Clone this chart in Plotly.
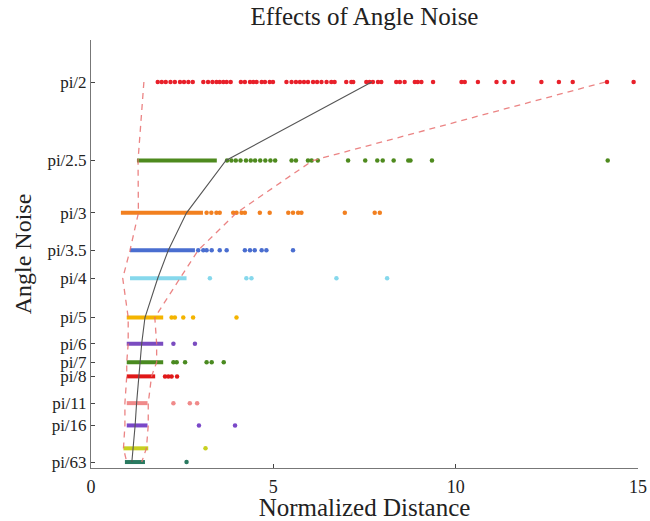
import math
import plotly.graph_objects as go

# ---- data ----
labels = ["pi/2", "pi/2.5", "pi/3", "pi/3.5", "pi/4", "pi/5", "pi/6", "pi/7",
          "pi/8", "pi/11", "pi/16", "", "pi/63"]
divisors = [2, 2.5, 3, 3.5, 4, 5, 6, 7, 8, 11, 16, 30, 63]
colors = ["#e8202a", "#4e8a1e", "#f28020", "#4a6ed0", "#86d8ec", "#f4b400",
          "#7a4cc0", "#4a8a20", "#e01818", "#f08a8a", "#7a48c8", "#c8d020", "#2a7a60"]

# dense (overlapping) runs of points: start and end of each run
dense_lo = [None, 1.26, 0.82, 1.07, 1.07, 0.98, 0.98, 0.98, 0.98, 0.98, 0.98, 0.89, 0.93]
dense_hi = [None, 3.45, 3.07, 2.85, 2.62, 1.98, 1.98, 1.98, 1.76, 1.55, 1.55, 1.57, 1.48]

# individual (separable) points at each level
dots = [
    [1.83, 1.94, 2.05, 2.18, 2.30, 2.44, 2.55, 2.67, 2.79, 3.08, 3.21, 3.33, 3.44,
     3.53, 3.63, 3.72, 3.83, 4.11, 4.22, 4.36, 4.45, 4.54, 4.68, 4.77, 4.90, 4.99,
     5.36, 5.50, 5.62, 5.73, 5.84, 5.95, 6.09, 6.20, 6.32, 6.46, 6.59, 6.68, 7.00,
     7.14, 7.19, 7.55, 7.64, 7.73, 7.87, 7.96, 8.37, 8.47, 8.60, 8.88, 8.96, 9.06,
     9.38, 10.16, 10.25, 10.61, 11.12, 11.34, 11.57, 12.35, 12.83, 13.21, 14.15, 14.88],
    [3.73, 3.85, 3.97, 4.10, 4.25, 4.38, 4.50, 4.64, 4.78, 4.92, 5.05, 5.50, 5.62,
     5.95, 6.05, 6.22, 7.05, 7.52, 7.85, 8.00, 8.30, 8.70, 8.76, 9.35, 14.17],
    [3.17, 3.30, 3.44, 3.53, 3.90, 3.99, 4.13, 4.22, 4.63, 4.90, 5.41, 5.54, 5.68,
     5.77, 6.96, 7.78, 7.92],
    [2.94, 3.08, 3.17, 3.31, 3.53, 3.72, 4.22, 4.36, 4.49, 4.68, 4.81, 5.54],
    [3.26, 4.26, 4.40, 6.73, 8.12],
    [2.21, 2.30, 2.53, 2.80, 3.99],
    [2.26, 2.85],
    [2.26, 2.35, 2.58, 3.17, 3.31, 3.64],
    [2.03, 2.12, 2.21, 2.36],
    [2.26, 2.71, 2.91],
    [2.96, 3.95],
    [3.14],
    [2.62],
]

medians = [7.70, 3.70, 2.62, 2.12, 1.83, 1.48, 1.39, 1.34, 1.32, 1.25, 1.21, 1.16, 1.12]
lower = [1.45, 1.29, 1.30, 1.07, 0.87, 1.02, 1.02, 0.98, 0.98, 0.93, 0.93, 0.89, 0.98]
upper = [14.10, 6.08, 3.99, 2.94, 2.44, 1.75, 1.80, 1.80, 1.66, 1.57, 1.57, 1.52, 1.39]

x_ticks = [0, 5, 10, 15]

# ---- figure ----
angles = [math.pi / d for d in divisors]
fig = go.Figure()

for i, a in enumerate(angles):
    if dense_lo[i] is not None:
        fig.add_trace(go.Scatter(x=[dense_lo[i], dense_hi[i]], y=[a, a], mode="lines",
                                 line=dict(color=colors[i], width=4),
                                 hoverinfo="skip", showlegend=False))
    fig.add_trace(go.Scatter(x=dots[i], y=[a] * len(dots[i]), mode="markers",
                             marker=dict(color=colors[i], size=4.5, line=dict(width=0)),
                             showlegend=False))

fig.add_trace(go.Scatter(x=lower, y=angles, mode="lines",
                         line=dict(color="rgba(232,110,110,0.85)", width=1.3, dash="6px,5px"),
                         showlegend=False))
fig.add_trace(go.Scatter(x=upper, y=angles, mode="lines",
                         line=dict(color="rgba(232,110,110,0.85)", width=1.3, dash="6px,5px"),
                         showlegend=False))
fig.add_trace(go.Scatter(x=medians, y=angles, mode="lines",
                         line=dict(color="#555555", width=1.1),
                         showlegend=False))

serif = "Liberation Serif, Times New Roman, serif"
tick_vals = [a for a, l in zip(angles, labels) if l]
tick_text = [l for l in labels if l]

fig.update_layout(
    width=650, height=521,
    margin=dict(l=91, r=12, t=40, b=53),
    paper_bgcolor="white", plot_bgcolor="white",
    font=dict(family=serif, color="#222222"),
    title=dict(text="Effects of Angle Noise", x=0.5, xref="paper", xanchor="center",
               y=0.968, yanchor="middle", yref="container",
               font=dict(family=serif, size=25, color="#222222")),
    xaxis=dict(range=[0, 15], tickvals=x_ticks, ticks="inside", ticklen=4,
               ticklabelstandoff=2, automargin=False,
               showline=True, linecolor="#777777", linewidth=1, mirror=False,
               showgrid=False, zeroline=False,
               tickfont=dict(family=serif, size=18, color="#222222"),
               title=dict(text="Normalized Distance", standoff=3,
                          font=dict(family=serif, size=25, color="#222222"))),
    yaxis=dict(range=[0.026, 1.739], tickvals=tick_vals, ticktext=tick_text,
               ticks="inside", ticklen=4, automargin=False,
               showline=True, linecolor="#777777", linewidth=1, mirror=False,
               showgrid=False, zeroline=False,
               tickfont=dict(family=serif, size=17, color="#222222"),
               title=dict(text="Angle Noise", standoff=8,
                          font=dict(family=serif, size=24, color="#222222"))),
)

fig.write_html("out.html")
